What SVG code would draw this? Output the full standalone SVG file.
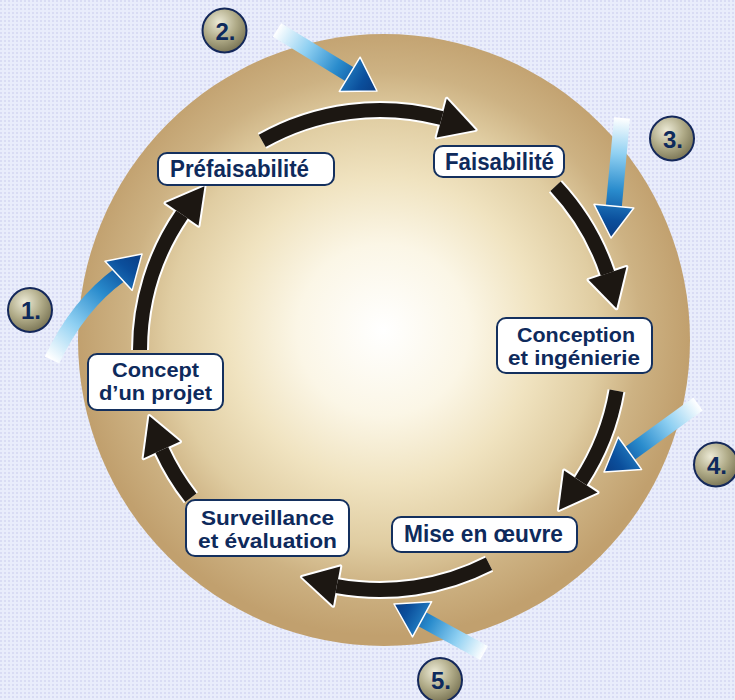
<svg xmlns="http://www.w3.org/2000/svg" width="735" height="700" viewBox="0 0 735 700">
<defs>
<style>
.lbl{font-family:"Liberation Sans",Arial,sans-serif;font-weight:bold;font-size:23px;fill:#0e2a5c}
.lbl2{font-family:"Liberation Sans",Arial,sans-serif;font-weight:bold;font-size:21px;fill:#0e2a5c}
.num{font-family:"Liberation Sans",Arial,sans-serif;font-weight:bold;font-size:24px;fill:#0e2a5c;text-anchor:middle}
.box{fill:#ffffff;stroke:#14305e;stroke-width:2}
.ncirc{fill:url(#ng);stroke:#14285a;stroke-width:2}
.arcO{fill:none;stroke:#ffffff;stroke-width:18}
.arc{fill:none;stroke:#1c1712;stroke-width:14}
.headO{fill:#ffffff;stroke:#ffffff;stroke-width:4;stroke-linejoin:round}
.head{fill:#1c1712}
.bshaft{fill:none;stroke-width:16}
.bhead{stroke:#ffffff;stroke-width:1.5;stroke-linejoin:round}
</style>
<pattern id="dots" width="4" height="4" patternUnits="userSpaceOnUse">
<rect width="4" height="4" fill="#e9edfb"/>
<rect x="0" y="0" width="2" height="2" fill="#d9dcf4"/>
</pattern>
<radialGradient id="sphere" cx="383" cy="330" r="306" gradientUnits="userSpaceOnUse">
<stop offset="0" stop-color="#ffffff"/>
<stop offset="0.28" stop-color="#fbf6e6"/>
<stop offset="0.5" stop-color="#f0e3c0"/>
<stop offset="0.7" stop-color="#e0cda2"/>
<stop offset="0.84" stop-color="#cdb283"/>
<stop offset="1" stop-color="#c1a06e"/>
</radialGradient>
<radialGradient id="ng" cx="0.38" cy="0.32" r="0.7">
<stop offset="0" stop-color="#ecead6"/>
<stop offset="0.55" stop-color="#b0ab88"/>
<stop offset="1" stop-color="#7b7656"/>
</radialGradient>
<linearGradient id="g1" gradientUnits="userSpaceOnUse" x1="52" y1="360" x2="142" y2="254">
<stop offset="0" stop-color="#ffffff"/><stop offset="0.3" stop-color="#8fd0f2"/><stop offset="0.6" stop-color="#2a8ccd"/><stop offset="0.85" stop-color="#0b4f9c"/><stop offset="1" stop-color="#0a3c84"/>
</linearGradient>
<linearGradient id="g2" gradientUnits="userSpaceOnUse" x1="277" y1="30" x2="377" y2="91">
<stop offset="0" stop-color="#ffffff"/><stop offset="0.3" stop-color="#8fd0f2"/><stop offset="0.6" stop-color="#2a8ccd"/><stop offset="0.85" stop-color="#0b4f9c"/><stop offset="1" stop-color="#0a3c84"/>
</linearGradient>
<linearGradient id="g3" gradientUnits="userSpaceOnUse" x1="622" y1="118" x2="611" y2="238">
<stop offset="0" stop-color="#ffffff"/><stop offset="0.3" stop-color="#8fd0f2"/><stop offset="0.6" stop-color="#2a8ccd"/><stop offset="0.85" stop-color="#0b4f9c"/><stop offset="1" stop-color="#0a3c84"/>
</linearGradient>
<linearGradient id="g4" gradientUnits="userSpaceOnUse" x1="698" y1="404" x2="604" y2="472">
<stop offset="0" stop-color="#ffffff"/><stop offset="0.3" stop-color="#8fd0f2"/><stop offset="0.6" stop-color="#2a8ccd"/><stop offset="0.85" stop-color="#0b4f9c"/><stop offset="1" stop-color="#0a3c84"/>
</linearGradient>
<linearGradient id="g5" gradientUnits="userSpaceOnUse" x1="484" y1="653" x2="394" y2="604">
<stop offset="0" stop-color="#ffffff"/><stop offset="0.3" stop-color="#8fd0f2"/><stop offset="0.6" stop-color="#2a8ccd"/><stop offset="0.85" stop-color="#0b4f9c"/><stop offset="1" stop-color="#0a3c84"/>
</linearGradient>
</defs>

<rect width="735" height="700" fill="url(#dots)"/>
<circle cx="384" cy="340" r="306" fill="url(#sphere)"/>

<g id="connectors">
<g id="cycle">
<path class="arcO" d="M140 350 A240 240 0 0 1 182 214.4"/>
<polygon class="headO" points="165.5,203.1 204.5,186.3 198.5,225.7"/>
<path class="arcO" d="M262.2 140.9 A240 240 0 0 1 441.7 118.1"/>
<polygon class="headO" points="446.8,98.8 475.7,129.9 436.6,137.4"/>
<path class="arcO" d="M555.5 186.3 A240 240 0 0 1 607.5 273.4"/>
<polygon class="headO" points="626.4,267 616.4,308.3 588.5,279.8"/>
<path class="arcO" d="M616.5 390.8 A240 240 0 0 1 580.8 481.4"/>
<polygon class="headO" points="597.5,492.4 558.9,510 564.1,470.5"/>
<path class="arcO" d="M489 563.8 A240 240 0 0 1 336.7 586.1"/>
<polygon class="headO" points="333.1,605.8 301.9,576.9 340.3,566.4"/>
<path class="arcO" d="M190.9 497.8 A240 240 0 0 1 161.8 449.9"/>
<polygon class="headO" points="143.6,458.2 149.3,416.1 180,441.6"/>

<path class="arc" d="M140 350 A240 240 0 0 1 182 214.4"/>
<polygon class="head" points="165.5,203.1 204.5,186.3 198.5,225.7"/>
<path class="arc" d="M262.2 140.9 A240 240 0 0 1 441.7 118.1"/>
<polygon class="head" points="446.8,98.8 475.7,129.9 436.6,137.4"/>
<path class="arc" d="M555.5 186.3 A240 240 0 0 1 607.5 273.4"/>
<polygon class="head" points="626.4,267 616.4,308.3 588.5,279.8"/>
<path class="arc" d="M616.5 390.8 A240 240 0 0 1 580.8 481.4"/>
<polygon class="head" points="597.5,492.4 558.9,510 564.1,470.5"/>
<path class="arc" d="M489 563.8 A240 240 0 0 1 336.7 586.1"/>
<polygon class="head" points="333.1,605.8 301.9,576.9 340.3,566.4"/>
<path class="arc" d="M190.9 497.8 A240 240 0 0 1 161.8 449.9"/>
<polygon class="head" points="143.6,458.2 149.3,416.1 180,441.6"/>
</g>
<g id="inputs">
<path class="bshaft" stroke="url(#g1)" d="M52 360 Q78 305 120 274.5"/>
<polygon class="bhead" fill="url(#g1)" points="105,261.2 142,254 132.2,290.4"/>
<path class="bshaft" stroke="url(#g2)" d="M277 30 L351.4 75.3"/>
<polygon class="bhead" fill="url(#g2)" points="360.1,57.2 377,91 339.3,91.4"/>
<path class="bshaft" stroke="url(#g3)" d="M622 118 L613.7 208"/>
<polygon class="bhead" fill="url(#g3)" points="633.8,208 611,238 594,204.3"/>
<path class="bshaft" stroke="url(#g4)" d="M698 404 L628.3 454.4"/>
<polygon class="bhead" fill="url(#g4)" points="641.6,469.4 604,472 618.2,437"/>
<path class="bshaft" stroke="url(#g5)" d="M484 653 L420.4 618.3"/>
<polygon class="bhead" fill="url(#g5)" points="412.5,636.9 394,604 431.7,601.7"/>
</g>
</g>

<g id="n-prefaisabilite">
<rect class="box" x="158" y="153" width="176" height="32" rx="9"/>
<text class="lbl" x="170" y="177" textLength="139" lengthAdjust="spacingAndGlyphs">Préfaisabilité</text>
</g>
<g id="n-faisabilite">
<rect class="box" x="434" y="146" width="130" height="31" rx="9"/>
<text class="lbl" x="445" y="170" textLength="109" lengthAdjust="spacingAndGlyphs">Faisabilité</text>
</g>
<g id="n-conception">
<rect class="box" x="497" y="318" width="155" height="55" rx="9"/>
<text class="lbl2" x="517" y="342" textLength="118" lengthAdjust="spacingAndGlyphs">Conception</text>
<text class="lbl2" x="508" y="365" textLength="132" lengthAdjust="spacingAndGlyphs">et ingénierie</text>
</g>
<g id="n-mise">
<rect class="box" x="392" y="517" width="185" height="35" rx="9"/>
<text class="lbl" x="404" y="542" textLength="159" lengthAdjust="spacingAndGlyphs">Mise en œuvre</text>
</g>
<g id="n-surveillance">
<rect class="box" x="186" y="500" width="163" height="56" rx="9"/>
<text class="lbl2" x="201" y="525" textLength="133" lengthAdjust="spacingAndGlyphs">Surveillance</text>
<text class="lbl2" x="198" y="548" textLength="139" lengthAdjust="spacingAndGlyphs">et évaluation</text>
</g>
<g id="n-concept">
<rect class="box" x="88" y="354" width="135" height="56" rx="9"/>
<text class="lbl2" x="112" y="377" textLength="87" lengthAdjust="spacingAndGlyphs">Concept</text>
<text class="lbl2" x="99" y="400" textLength="113" lengthAdjust="spacingAndGlyphs">d’un projet</text>
</g>

<g id="num1"><circle class="ncirc" cx="30" cy="310" r="22"/><text class="num" x="31" y="319">1.</text></g>
<g id="num2"><circle class="ncirc" cx="224.5" cy="30.5" r="22"/><text class="num" x="225.5" y="39.5">2.</text></g>
<g id="num3"><circle class="ncirc" cx="672" cy="138.5" r="22"/><text class="num" x="673" y="147.5">3.</text></g>
<g id="num4"><circle class="ncirc" cx="716" cy="464.5" r="22"/><text class="num" x="717" y="473.5">4.</text></g>
<g id="num5"><circle class="ncirc" cx="440" cy="680" r="22"/><text class="num" x="441" y="689">5.</text></g>
</svg>
